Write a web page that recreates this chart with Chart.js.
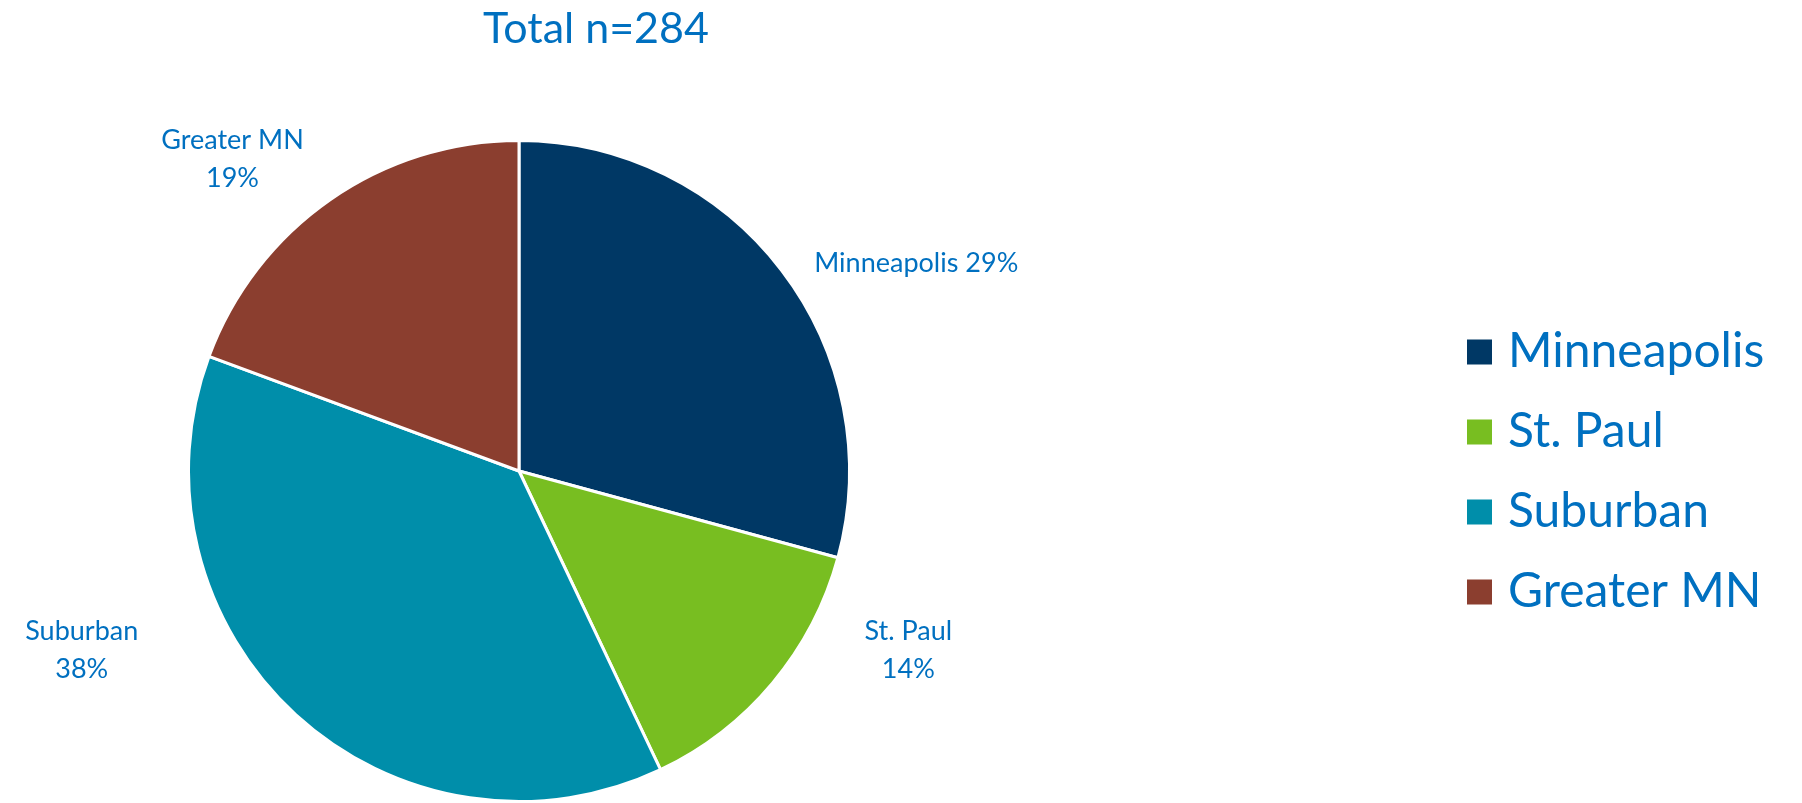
<!DOCTYPE html>
<html>
<head>
<meta charset="utf-8">
<title>Total n=284</title>
<script src="https://cdn.jsdelivr.net/npm/chart.js@4"></script>
<style>
  html, body { margin: 0; padding: 0; background: #fff; }
  #wrap { position: relative; width: 1802px; height: 803px; }
</style>
</head>
<body>
<div id="wrap"><canvas id="pie"></canvas></div>
<script>
// chart data
const regions = ['Minneapolis', 'St. Paul', 'Suburban', 'Greater MN'];
const counts = [83, 39, 107, 55];
const sliceColors = ['#003865', '#78BE21', '#008EAA', '#8B3E2F'];
const titleText = 'Total n=284';

const textBlue = '#0070C0';
const font = 'Lato, "Open Sans", sans-serif';

// where each data label sits, relative to pie centre, in radius units
const labelSpots = [
  { dx: 1.202, dy: -0.628, wrap: false },
  { dx: 1.178, dy: 0.544, wrap: true },
  { dx: -1.323, dy: 0.544, wrap: true },
  { dx: -0.867, dy: -0.943, wrap: true }
];

// title, data labels and legend drawn on the canvas
const decorations = {
  id: 'decorations',
  afterDraw(chart) {
    const ctx = chart.ctx;
    const ds = chart.data.datasets[0];
    const total = ds.data.reduce((a, b) => a + b, 0);
    const arc = chart.getDatasetMeta(0).data[0];
    const cx = arc.x, cy = arc.y, r = arc.outerRadius;

    ctx.save();
    ctx.fillStyle = textBlue;
    ctx.textAlign = 'center';
    ctx.textBaseline = 'alphabetic';

    // title
    ctx.font = '43px ' + font;
    ctx.fillText(titleText, 596, 43);

    // data labels
    ctx.font = '27px ' + font;
    ctx.textBaseline = 'middle';
    chart.data.labels.forEach((lab, i) => {
      const pct = Math.round(ds.data[i] / total * 100) + '%';
      const spot = labelSpots[i];
      const x = cx + spot.dx * r;
      const y = cy + spot.dy * r;
      if (spot.wrap) {
        ctx.fillText(lab, x, y - 19);
        ctx.fillText(pct, x, y + 19);
      } else {
        ctx.fillText(lab + ' ' + pct, x, y);
      }
    });

    // legend
    ctx.font = '48px ' + font;
    ctx.textAlign = 'left';
    chart.data.labels.forEach((lab, i) => {
      const y = 352 + i * 80;
      ctx.fillStyle = ds.backgroundColor[i];
      ctx.fillRect(1467, y - 12.5, 25, 25);
      ctx.fillStyle = textBlue;
      ctx.fillText(lab, 1508, y);
    });
    ctx.restore();
  }
};

new Chart(document.getElementById('pie'), {
  type: 'pie',
  data: {
    labels: regions,
    datasets: [{
      data: counts,
      backgroundColor: sliceColors,
      borderColor: '#ffffff',
      borderWidth: 3
    }]
  },
  options: {
    responsive: true,
    maintainAspectRatio: false,
    animation: false,
    layout: { padding: { left: 187, right: 951, top: 139, bottom: 0 } },
    plugins: {
      legend: { display: false },
      tooltip: { enabled: false }
    }
  },
  plugins: [decorations]
});
</script>
</body>
</html>
